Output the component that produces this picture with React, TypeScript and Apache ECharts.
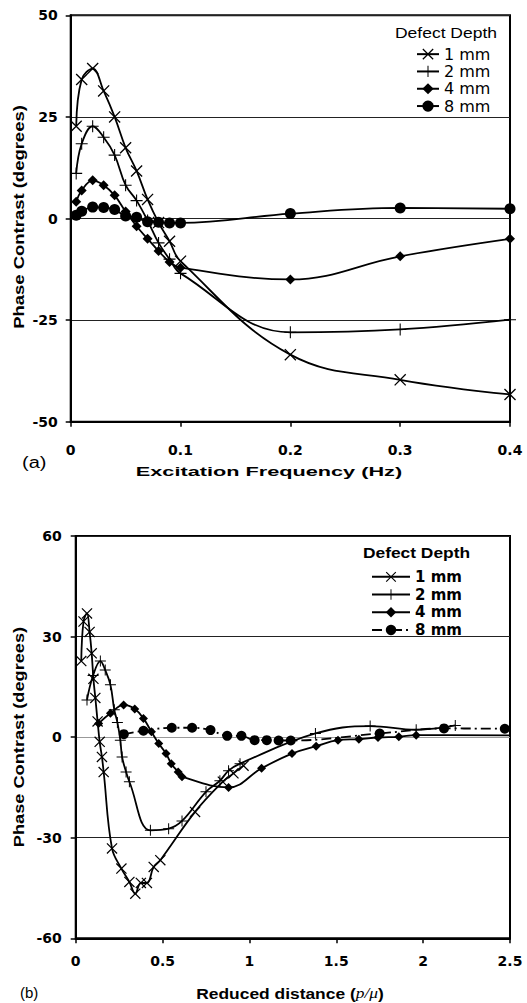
import React, { useEffect, useRef } from "react";
import * as echarts from "echarts";

// ---------- (a) Phase contrast vs excitation frequency ----------
const FREQ = [0.005, 0.01, 0.02, 0.03, 0.04, 0.05, 0.06, 0.07, 0.08, 0.09, 0.1, 0.2, 0.3, 0.4];
const A_1MM = [22.7, 34.2, 36.9, 31.4, 25.0, 17.4, 11.7, 4.7, -1.0, -5.6, -10.5, -33.5, -39.7, -43.3];
const A_2MM = [11.1, 18.4, 22.7, 20.0, 15.6, 8.2, 4.4, -0.5, -6.0, -10.0, -13.5, -28.0, -27.3, -24.9];
const A_4MM = [4.1, 6.9, 9.4, 8.2, 5.7, 1.7, -1.9, -5.0, -8.0, -10.7, -12.1, -15.0, -9.3, -5.0];
const A_8MM = [0.8, 1.8, 2.8, 2.7, 2.2, 0.6, 0.3, -0.8, -0.9, -1.1, -1.1, 1.2, 2.6, 2.4];

// ---------- (b) Phase contrast vs reduced distance ----------
const B_1MM_X = [0.032, 0.045, 0.065, 0.08, 0.092, 0.102, 0.113, 0.126, 0.138, 0.151, 0.161, 0.209, 0.263, 0.309, 0.343, 0.375, 0.41, 0.449, 0.487, 0.687, 0.847, 0.908, 0.966];
const B_1MM_Y = [22.7, 34.5, 36.9, 31.4, 25.0, 17.4, 11.7, 4.7, -1.4, -5.9, -10.4, -33.2, -39.2, -43.2, -46.7, -43.5, -43.5, -38.7, -36.7, -22.3, -13.3, -10.8, -8.5];
const B_2MM_X = [0.065, 0.1, 0.142, 0.17, 0.2, 0.222, 0.24, 0.257, 0.267, 0.29, 0.309, 0.43, 0.535, 0.612, 0.75, 0.83, 0.88, 0.946, 1.38, 1.695, 1.96, 2.185];
const B_2MM_Y = [11.1, 18.4, 22.7, 20.0, 15.6, 8.2, 4.4, -0.9, -5.9, -10.4, -13.3, -27.8, -27.3, -25.0, -16.3, -13.0, -10.0, -7.9, 1.1, 3.3, 2.2, 3.5];
const B_4MM_X = [0.132, 0.2, 0.276, 0.34, 0.39, 0.436, 0.478, 0.52, 0.55, 0.59, 0.612, 0.88, 1.07, 1.245, 1.384, 1.51, 1.63, 1.74, 1.86, 1.96, 2.5];
const B_4MM_Y = [4.1, 7.1, 9.6, 8.4, 5.6, 1.6, -1.9, -4.9, -7.9, -10.4, -11.8, -15.0, -9.3, -4.9, -2.7, -0.9, -0.6, -0.1, 0.1, 0.6, 0.5];
const B_8MM_X = [0.277, 0.39, 0.553, 0.67, 0.776, 0.872, 0.954, 1.03, 1.1, 1.168, 1.238, 1.75, 2.12, 2.47];
const B_8MM_Y = [0.9, 1.9, 2.8, 2.8, 2.1, 0.4, 0.4, -0.9, -0.9, -1.0, -1.0, 1.1, 2.6, 2.5];

const NAMES = ["1 mm", "2 mm", "4 mm", "8 mm"];
const A_X_TICKS = { min: 0, max: 0.4, interval: 0.1 };
const A_Y_TICKS = { min: -50, max: 50, interval: 25 };
const B_X_TICKS = { min: 0, max: 2.5, interval: 0.5 };
const B_Y_TICKS = { min: -60, max: 60, interval: 30 };

const CROSS =
  "path://M0.424,-0.424L10.424,9.576L9.576,10.424L-0.424,0.424ZM10.424,0.424L0.424,10.424L-0.424,9.576L9.576,-0.424Z";
const PLUS = "path://M4.55,0L5.45,0L5.45,10L4.55,10ZM0,4.55L10,4.55L10,5.45L0,5.45Z";

const SYMBOLS = [CROSS, PLUS, "diamond", "circle"];
const A_SIZES = [12, 12, 10, 11];
const B_SIZES = [11, 11, 9, 10];

const pair = (xs: number[], ys: number[]) => xs.map((x, i) => [x, ys[i]]);

function buildOption() {
  const aData = [A_1MM, A_2MM, A_4MM, A_8MM].map((ys) => pair(FREQ, ys));
  const bData: any[] = [
    pair(B_1MM_X, B_1MM_Y),
    pair(B_2MM_X, B_2MM_Y),
    pair(B_4MM_X, B_4MM_Y).map((p, i, arr) =>
      i === arr.length - 1 ? { value: p, symbol: "none" } : p
    ),
    pair(B_8MM_X, B_8MM_Y),
  ];

  const mkSeries = (data: any[], idx: number, grid: number, sizes: number[], nameSuffix: string, dash?: any) => ({
    type: "line",
    name: NAMES[idx] + nameSuffix,
    xAxisIndex: grid,
    yAxisIndex: grid,
    data,
    smooth: 0.4,
    symbol: SYMBOLS[idx],
    symbolSize: sizes[idx],
    symbolKeepAspect: true,
    showSymbol: true,
    lineStyle: { color: "#000", width: 1.8, type: dash || "solid" },
    itemStyle: { color: "#000", borderWidth: 0 },
    z: 3 + idx,
  });

  const series: any[] = [];
  aData.forEach((d, i) => series.push(mkSeries(d, i, 0, A_SIZES, "")));
  bData.forEach((d, i) => series.push(mkSeries(d, i, 1, B_SIZES, " ", i === 3 ? [10, 4, 2, 4] : undefined)));

  const tickFont = {
    color: "#000",
    fontFamily: "DejaVu Sans",
    fontWeight: "bold",
    fontSize: 14,
  };

  const xAxisBase = (grid: number, t: any, margin: number) => ({
    gridIndex: grid,
    type: "value",
    ...t,
    axisLine: { show: true, onZero: false, lineStyle: { color: "#000", width: 2 } },
    axisTick: { show: true, inside: false, length: 5, lineStyle: { color: "#000", width: 1.5 } },
    axisLabel: { ...tickFont, margin },
    splitLine: { show: false },
  });
  const yAxisBase = (grid: number, t: any, margin: number, colors: string[]) => ({
    gridIndex: grid,
    type: "value",
    ...t,
    axisLine: { show: true, onZero: false, lineStyle: { color: "#000", width: 2 } },
    axisTick: { show: true, inside: false, length: 5, lineStyle: { color: "#000", width: 1.5 } },
    axisLabel: { ...tickFont, margin },
    splitLine: { show: true, lineStyle: { color: colors, width: 1 } },
  });

  const txt = (text: string, x: number, y: number, font: string, opts: any = {}) => ({
    type: "text",
    x,
    y,
    scaleX: opts.scaleX ?? 1,
    rotation: opts.rotation ?? 0,
    silent: true,
    style: {
      text,
      font,
      fill: "#000",
      textAlign: opts.align ?? "center",
      textVerticalAlign: "middle",
    },
  });

  return {
    animation: false,
    backgroundColor: "#fff",
    grid: [
      { left: 70.7, right: 17, top: 15.3, height: 406.4, show: true, borderColor: "#000", borderWidth: 2 },
      { left: 75.7, right: 17, top: 536, height: 402.3, show: true, borderColor: "#000", borderWidth: 2 },
    ],
    xAxis: [xAxisBase(0, A_X_TICKS, 21), xAxisBase(1, B_X_TICKS, 16)],
    yAxis: [
      yAxisBase(0, A_Y_TICKS, 13, ["#222", "#222", "#222", "#222", "#222"]),
      yAxisBase(1, B_Y_TICKS, 14, ["#222", "#222", "#999", "#222", "#222"]),
    ],
    legend: [
      {
        orient: "vertical",
        left: 411,
        top: 40.5,
        itemWidth: 22,
        itemHeight: 14,
        itemGap: 0,
        selectedMode: false,
        data: NAMES,
        formatter: (n: string) => n.trim(),
        textStyle: { color: "#000", fontFamily: "DejaVu Sans", fontSize: 16, lineHeight: 17.3 },
      },
      {
        orient: "vertical",
        left: 366,
        top: 563,
        itemWidth: 38,
        itemHeight: 13,
        itemGap: 0,
        selectedMode: false,
        data: NAMES.map((n) => n + " "),
        formatter: (n: string) => n.trim(),
        textStyle: { color: "#000", fontFamily: "DejaVu Sans", fontWeight: "bold", fontSize: 15, lineHeight: 17.7 },
      },
    ],
    graphic: [
      txt("Defect Depth", 395, 32, "15px 'Liberation Sans'", { align: "left", scaleX: 1.166 }),
      txt("Defect Depth", 363, 552, "bold 15px 'Liberation Sans'", { align: "left", scaleX: 1.157 }),
      txt("Phase Contrast (degrees)", 19, 217, "bold 14px 'Liberation Sans'", { rotation: Math.PI / 2, scaleX: 1.32 }),
      txt("Phase Contrast (degrees)", 19, 737, "bold 14px 'Liberation Sans'", { rotation: Math.PI / 2, scaleX: 1.3 }),
      txt("Excitation Frequency (Hz)", 269, 471.5, "bold 13px 'Liberation Sans'", { scaleX: 1.67 }),
      {
        type: "text",
        x: 290,
        y: 993,
        scaleX: 1.16,
        silent: true,
        style: {
          text: "{b|Reduced distance (}{i|p/μ}{b|)}",
          fill: "#000",
          textAlign: "center",
          textVerticalAlign: "middle",
          rich: {
            b: { font: "bold 15px 'Liberation Sans'", fill: "#000" },
            i: { font: "italic 15px 'Liberation Serif'", fill: "#000" },
          },
        },
      },
      txt("(a)", 22, 463, "16px 'Liberation Sans'", { align: "left", scaleX: 1.25 }),
      txt("(b)", 20, 992, "15px 'Liberation Sans'", { align: "left" }),
    ],
    series,
  };
}

export default function App() {
  const ref = useRef<HTMLDivElement>(null);
  useEffect(() => {
    const chart = echarts.init(ref.current!, null, { renderer: "svg" });
    chart.setOption(buildOption() as any);
    return () => chart.dispose();
  }, []);
  return (
    <div
      ref={ref}
      style={{ position: "absolute", left: 0, top: 0, width: 527, height: 1003, background: "#fff" }}
    />
  );
}
